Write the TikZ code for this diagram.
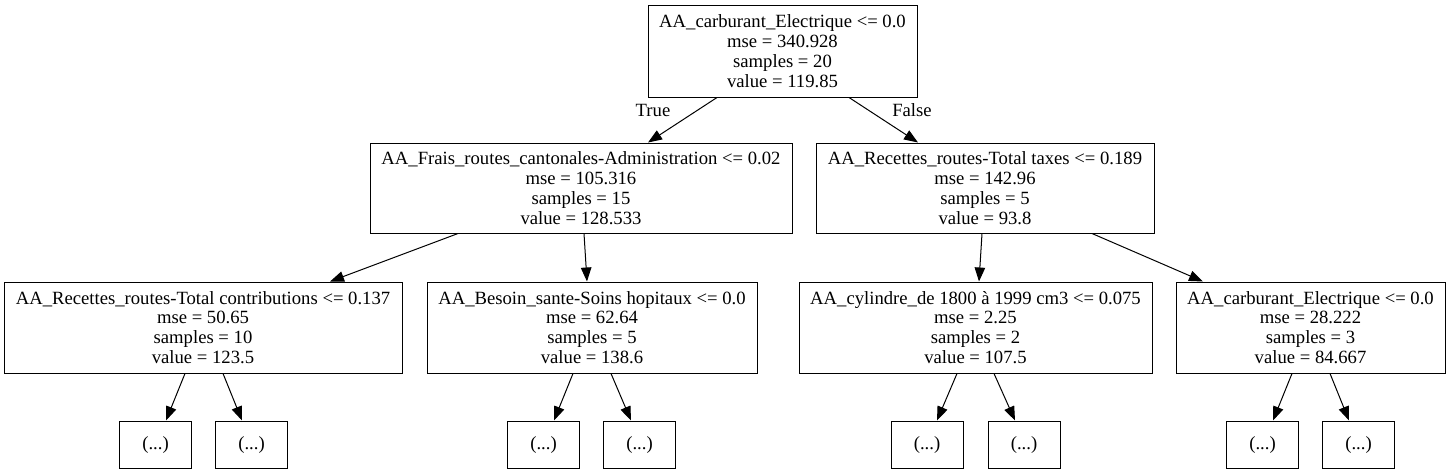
\documentclass[tikz,border=0pt]{standalone}
\usepackage{fontspec}
\setmainfont{Liberation Serif}
\usetikzlibrary{arrows.meta}
\tikzset{
  tree/.style={draw=black, line width=1pt, inner sep=0pt, align=center,
    font=\fontsize{18.67}{19.8}\selectfont},
  split/.style={tree, minimum height=91pt},
  leafbox/.style={tree, minimum width=72pt, minimum height=47pt},
  edgelabel/.style={font=\fontsize{18.67}{19.8}\selectfont, inner sep=0pt},
  link/.style={line width=1pt, -{Triangle[length=14pt,width=10.5pt]}}
}
\begin{document}
\begin{tikzpicture}[x=1pt,y=-1pt]
\useasboundingbox (0,0) rectangle (1450,475);
\fill[white] (0,0) rectangle (1450,475);
% nodes
\node[split, minimum width=269pt, minimum height=92pt] (root) at (782.5,51)
  {AA\_carburant\_Electrique <= 0.0\\mse = 340.928\\samples = 20\\value = 119.85};
\node[split, minimum width=422pt, minimum height=90pt] (l2a) at (581,188)
  {AA\_Frais\_routes\_cantonales-Administration <= 0.02\\mse = 105.316\\samples = 15\\value = 128.533};
\node[split, minimum width=338pt, minimum height=90pt] (l2b) at (985,188)
  {AA\_Recettes\_routes-Total taxes <= 0.189\\mse = 142.96\\samples = 5\\value = 93.8};
\node[split, minimum width=398pt] (l3a) at (203,327.5)
  {AA\_Recettes\_routes-Total contributions <= 0.137\\mse = 50.65\\samples = 10\\value = 123.5};
\node[split, minimum width=330pt] (l3b) at (592,327.5)
  {AA\_Besoin\_sante-Soins hopitaux <= 0.0\\mse = 62.64\\samples = 5\\value = 138.6};
\node[split, minimum width=353pt] (l3c) at (975.5,327.5)
  {AA\_cylindre\_de 1800 à 1999 cm3 <= 0.075\\mse = 2.25\\samples = 2\\value = 107.5};
\node[split, minimum width=269pt] (l3d) at (1310.5,327.5)
  {AA\_carburant\_Electrique <= 0.0\\mse = 28.222\\samples = 3\\value = 84.667};
\node[leafbox] (f1) at (155.5,444.5) {(...)};
\node[leafbox] (f2) at (251.5,444.5) {(...)};
\node[leafbox] (f3) at (543.5,444.5) {(...)};
\node[leafbox] (f4) at (639.5,444.5) {(...)};
\node[leafbox] (f5) at (927,444.5) {(...)};
\node[leafbox] (f6) at (1024,444.5) {(...)};
\node[leafbox] (f7) at (1262.5,444.5) {(...)};
\node[leafbox] (f8) at (1358.5,444.5) {(...)};
% labels
\node[edgelabel] (ltrue) at (653,110) {True};
\node[edgelabel] (lfalse) at (912,110) {False};
% edges
\draw[link] ([xshift=-65.5pt]root.south) -- ([xshift=67pt]l2a.north);
\draw[link] ([xshift=66.5pt]root.south) -- ([xshift=-67pt]l2b.north);
\draw[link] ([xshift=-123pt]l2a.south) -- ([xshift=127pt]l3a.north);
\draw[link] ([xshift=3pt]l2a.south) -- ([xshift=-5pt]l3b.north);
\draw[link] ([xshift=-3pt]l2b.south) -- ([xshift=3.5pt]l3c.north);
\draw[link] ([xshift=107pt]l2b.south) -- ([xshift=-107.5pt]l3d.north);
\draw[link] ([xshift=-18pt]l3a.south) -- ([xshift=10.5pt]f1.north);
\draw[link] ([xshift=20pt]l3a.south) -- ([xshift=-9.5pt]f2.north);
\draw[link] ([xshift=-19pt]l3b.south) -- ([xshift=10.5pt]f3.north);
\draw[link] ([xshift=19pt]l3b.south) -- ([xshift=-8.5pt]f4.north);
\draw[link] ([xshift=-18.5pt]l3c.south) -- ([xshift=10pt]f5.north);
\draw[link] ([xshift=18.5pt]l3c.south) -- ([xshift=-9pt]f6.north);
\draw[link] ([xshift=-18.5pt]l3d.south) -- ([xshift=10.5pt]f7.north);
\draw[link] ([xshift=19.5pt]l3d.south) -- ([xshift=-9.5pt]f8.north);
\end{tikzpicture}
\end{document}
